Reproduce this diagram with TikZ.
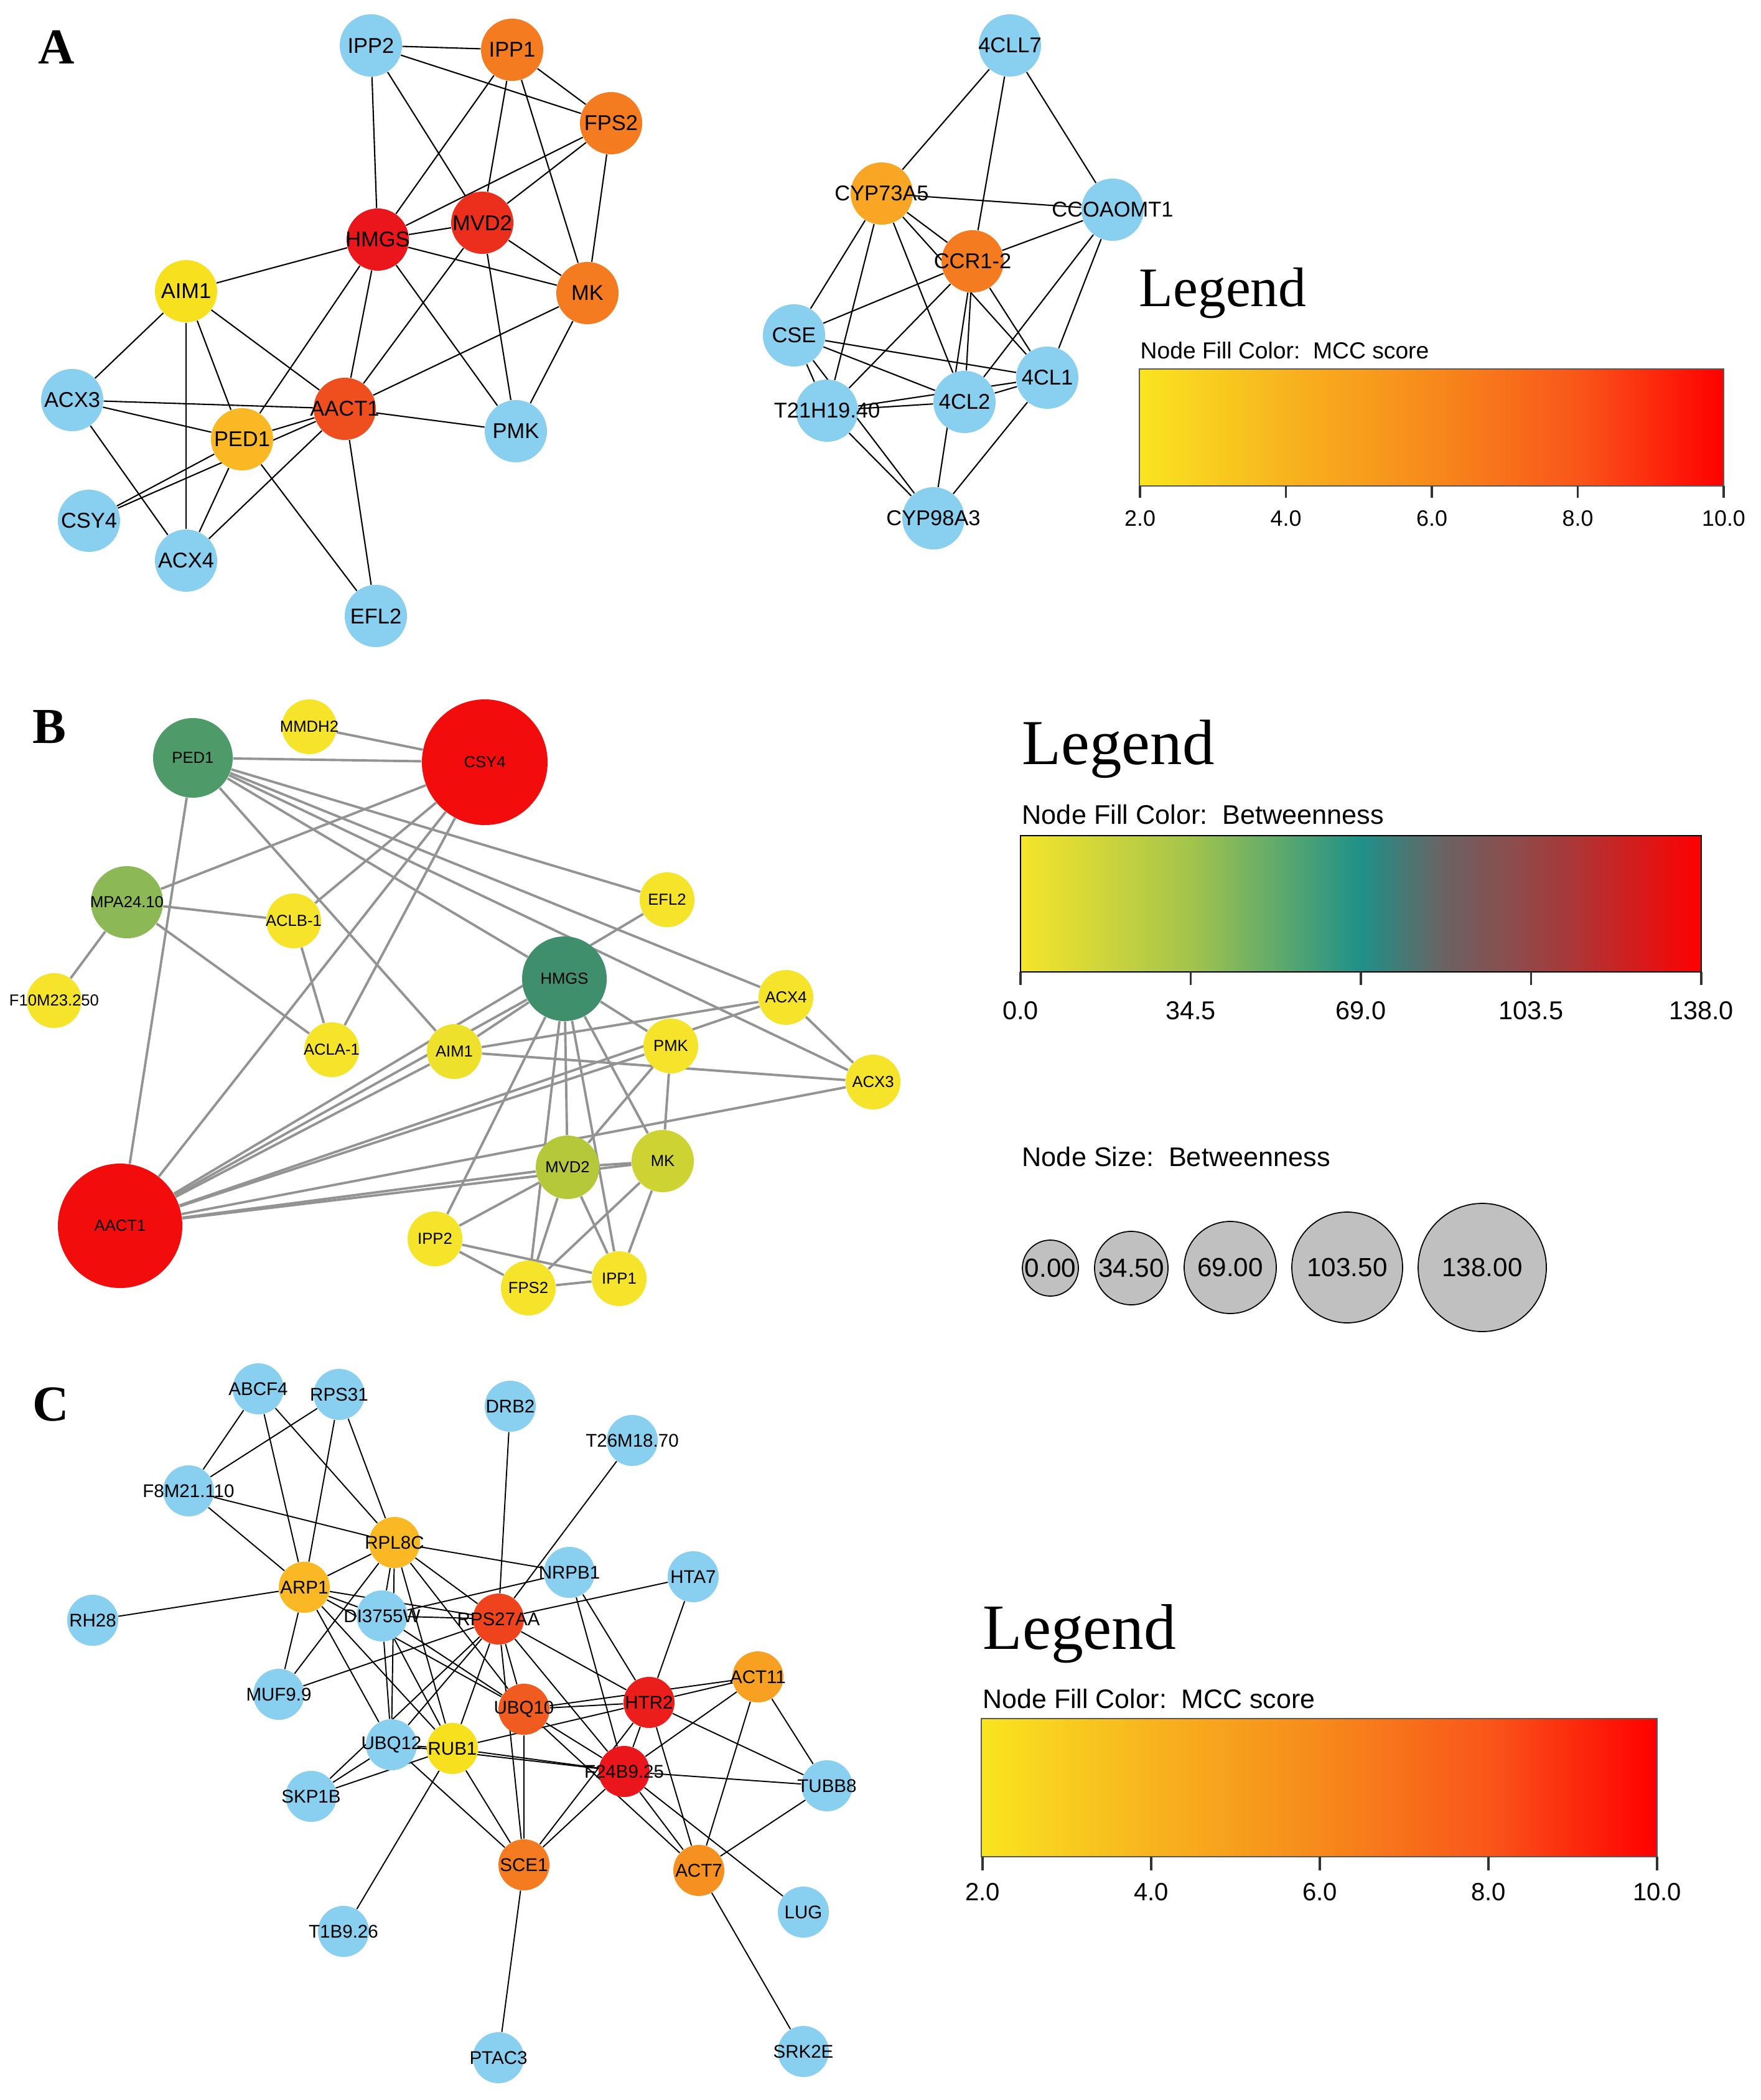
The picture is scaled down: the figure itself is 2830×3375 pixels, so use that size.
\documentclass[tikz,border=0pt]{standalone}
\usepackage{fontspec}
\setmainfont{Liberation Serif}
\setsansfont{Liberation Sans}
\usepackage{tikz}
\usetikzlibrary{backgrounds}
\definecolor{skyblue}{HTML}{89CFF0}
\definecolor{mccyellow}{HTML}{F7E01D}
\definecolor{mccgold}{HTML}{F9B824}
\definecolor{mccorange}{HTML}{F47B20}
\definecolor{mccredorange}{HTML}{EF4E1E}
\definecolor{mccred}{HTML}{EA161B}
\definecolor{btyellow}{HTML}{F5E42A}
\definecolor{btgreen}{HTML}{4F9A69}
\definecolor{btteal}{HTML}{3F8F6C}
\definecolor{btlime}{HTML}{8DB856}
\definecolor{btolive}{HTML}{B4C83A}
\definecolor{btred}{HTML}{F20C0C}
\definecolor{sizegray}{HTML}{C0C0C0}
% colour bars
\definecolor{barA}{HTML}{F9E51F}
\definecolor{barB}{HTML}{F8B41E}
\definecolor{barC}{HTML}{F78A1B}
\definecolor{barD}{HTML}{F9561A}
\definecolor{barE}{HTML}{FF0000}
\definecolor{btwA}{HTML}{F6E52A}
\definecolor{btwB}{HTML}{A3C44C}
\definecolor{btwC}{HTML}{1F9089}
\definecolor{btwD}{HTML}{6C6262}
\definecolor{btwE}{HTML}{A63A3A}
\pgfdeclarehorizontalshading{mccbar}{100bp}{color(0bp)=(barA); color(25bp)=(barA); color(37.5bp)=(barB); color(50bp)=(barC); color(62.5bp)=(barD); color(75bp)=(barE); color(100bp)=(barE)}
\pgfdeclarehorizontalshading{btwbar}{100bp}{color(0bp)=(btwA); color(25bp)=(btwA); color(37.5bp)=(btwB); color(50bp)=(btwC); color(56.25bp)=(btwD); color(65bp)=(btwE); color(75bp)=(barE); color(100bp)=(barE)}

\begin{document}
\begin{tikzpicture}[x=0.1mm, y=-0.1mm,
    gene/.style={circle, inner sep=0pt, draw=none, minimum size=#1},
    gene/.default=10mm,
    aedge/.style={black, line width=0.6pt},
    bedge/.style={gray!85, line width=1.1pt},
    cedge/.style={black, line width=0.55pt},
    panel/.style={font=\fontsize{23}{23}\selectfont\bfseries},
    legtitle/.style={anchor=base west, inner sep=0pt, font=\fontsize{#1}{#1}\selectfont},
    legtext/.style={anchor=base west, inner sep=0pt, font=\sffamily\fontsize{#1}{#1}\selectfont},
    ticklabel/.style={font=\sffamily\fontsize{#1}{#1}\selectfont},
    tickmark/.style={line width=1.1pt, black!80},
    sizedot/.style={circle, inner sep=0pt, fill=sizegray, draw=black, line width=0.5pt, minimum size=#1}]

\useasboundingbox (0,0) rectangle (2830,3375);
\begin{scope}[on background layer]
  \fill[white] (0,0) rectangle (2830,3375);
\end{scope}

% panel letters
\node[panel] (labA) at (91,76) {A};
\node[panel] (labB) at (79,1168) {B};
\node[panel] (labC) at (82,2257) {C};

%%%% A: MCC networks
\begin{scope}[every label/.style={font=\sffamily\fontsize{9.8}{10}\selectfont}]
  % mevalonate cluster
  \node[gene, fill=skyblue, label={center:IPP2}] (aIPP2) at (596,73) {};
  \node[gene, fill=mccorange, label={center:IPP1}] (aIPP1) at (823,80) {};
  \node[gene, fill=mccorange, label={center:FPS2}] (aFPS2) at (982,198) {};
  \node[gene, fill=mccred, label={center:HMGS}] (aHMGS) at (607,385) {};
  \node[gene, fill=mccred!75!mccorange, label={center:MVD2}] (aMVD2) at (775,358) {};
  \node[gene, fill=mccorange, label={center:MK}] (aMK) at (944,471) {};
  \node[gene, fill=mccyellow, label={center:AIM1}] (aAIM1) at (299,468) {};
  \node[gene, fill=mccredorange, label={center:AACT1}] (aAACT1) at (554,657) {};
  \node[gene, fill=skyblue, label={center:PMK}] (aPMK) at (829,693) {};
  \node[gene, fill=skyblue, label={center:ACX3}] (aACX3) at (116,643) {};
  \node[gene, fill=mccgold, label={center:PED1}] (aPED1) at (389,706) {};
  \node[gene, fill=skyblue, label={center:CSY4}] (aCSY4) at (143,837) {};
  \node[gene, fill=skyblue, label={center:ACX4}] (aACX4) at (299,901) {};
  \node[gene, fill=skyblue, label={center:EFL2}] (aEFL2) at (604,990) {};
  % phenylpropanoid cluster
  \node[gene, fill=skyblue, label={center:4CLL7}] (a4CLL7) at (1623,73) {};
  \node[gene, fill=mccgold!70!mccorange, label={center:CYP73A5}] (aCYP73) at (1417,311) {};
  \node[gene, fill=skyblue, label={center:CCOAOMT1}] (aCCOA) at (1788,337) {};
  \node[gene, fill=mccorange, label={center:CCR1-2}] (aCCR) at (1563,420) {};
  \node[gene, fill=skyblue, label={center:CSE}] (aCSE) at (1276,539) {};
  \node[gene, fill=skyblue, label={center:4CL1}] (a4CL1) at (1683,607) {};
  \node[gene, fill=skyblue, label={center:4CL2}] (a4CL2) at (1550,646) {};
  \node[gene, fill=skyblue, label={center:T21H19.40}] (aT21) at (1329,660) {};
  \node[gene, fill=skyblue, label={center:CYP98A3}] (aCYP98) at (1500,833) {};
\end{scope}

\begin{scope}[on background layer]
  \foreach \u/\v in {aIPP2/aIPP1, aIPP2/aFPS2, aIPP2/aHMGS, aIPP2/aMVD2,
      aIPP1/aFPS2, aIPP1/aHMGS, aIPP1/aMVD2, aIPP1/aMK,
      aFPS2/aHMGS, aFPS2/aMVD2, aFPS2/aMK,
      aHMGS/aMVD2, aHMGS/aMK, aHMGS/aAIM1, aHMGS/aAACT1, aHMGS/aPED1, aHMGS/aPMK,
      aMVD2/aMK, aMVD2/aAACT1, aMVD2/aPMK, aMK/aAACT1, aMK/aPMK,
      aAIM1/aACX3, aAIM1/aACX4, aAIM1/aPED1, aAIM1/aAACT1,
      aACX3/aAACT1, aACX3/aPED1, aACX3/aACX4,
      aAACT1/aPED1, aAACT1/aPMK, aAACT1/aEFL2, aAACT1/aACX4,
      aPED1/aACX4, aPED1/aEFL2, aPED1/aCSY4, aCSY4/aAACT1,
      a4CLL7/aCYP73, a4CLL7/aCCR, a4CLL7/aCCOA,
      aCYP73/aCCOA, aCYP73/aCCR, aCYP73/a4CL1, aCYP73/aCSE, aCYP73/aT21, aCYP73/a4CL2,
      aCCOA/aCCR, aCCOA/a4CL2, aCCOA/a4CL1,
      aCCR/aCSE, aCCR/aT21, aCCR/a4CL2, aCCR/aCYP98, aCCR/a4CL1,
      aCSE/aT21, aCSE/a4CL1, aCSE/a4CL2, aCSE/aCYP98,
      aT21/a4CL2, aT21/a4CL1, aT21/aCYP98, a4CL2/a4CL1, a4CL1/aCYP98}
    \draw[aedge] (\u) -- (\v);
\end{scope}

% legend A
\node[legtitle=25.5] (legA) at (1830,493) {Legend};
\node[legtext=10.6] (fillA) at (1832,577) {Node Fill Color:\ \ MCC score};
\draw[shading=mccbar, draw=gray!70!black, line width=0.6pt] (1831,593) rectangle (2770,781);
\foreach \k/\lab in {0/2.0, 1/4.0, 2/6.0, 3/8.0, 4/10.0} {
  \draw[tickmark] ({1832+234.5*\k},781) -- ++(0,19);
  \node[ticklabel=10.2] (tickA\k) at ({1832+234.5*\k},833) {\lab};
}

%%%% B: betweenness network
\begin{scope}[every label/.style={font=\sffamily\fontsize{7.3}{8}\selectfont}]
  \node[gene=8.8mm, fill=btyellow, label={center:MMDH2}] (bMMDH2) at (497,1168) {};
  \node[gene=12.8mm, fill=btgreen, label={center:PED1}] (bPED1) at (310,1218) {};
  \node[gene=20.2mm, fill=btred, label={center:CSY4}] (bCSY4) at (779,1225) {};
  \node[gene=11.6mm, fill=btlime, label={center:MPA24.10}] (bMPA) at (204,1450) {};
  \node[gene=8.8mm, fill=btyellow, label={center:ACLB-1}] (bACLB) at (472,1480) {};
  \node[gene=8.8mm, fill=btyellow, label={center:EFL2}] (bEFL2) at (1072,1446) {};
  \node[gene=8.8mm, fill=btyellow, label={center:F10M23.250}] (bF10M) at (87,1608) {};
  \node[gene=13.6mm, fill=btteal, label={center:HMGS}] (bHMGS) at (907,1573) {};
  \node[gene=8.8mm, fill=btyellow, label={center:ACX4}] (bACX4) at (1263,1603) {};
  \node[gene=8.8mm, fill=btyellow, label={center:ACLA-1}] (bACLA) at (533,1687) {};
  \node[gene=8.8mm, fill=btyellow!90!btolive, label={center:AIM1}] (bAIM1) at (730,1690) {};
  \node[gene=8.8mm, fill=btyellow, label={center:PMK}] (bPMK) at (1078,1681) {};
  \node[gene=8.8mm, fill=btyellow, label={center:ACX3}] (bACX3) at (1403,1739) {};
  \node[gene=10.2mm, fill=btolive, label={center:MVD2}] (bMVD2) at (912,1876) {};
  \node[gene=10mm, fill=btolive!60!btyellow, label={center:MK}] (bMK) at (1065,1866) {};
  \node[gene=20mm, fill=btred, label={center:AACT1}] (bAACT1) at (193,1970) {};
  \node[gene=8.8mm, fill=btyellow, label={center:IPP2}] (bIPP2) at (699,1991) {};
  \node[gene=8.8mm, fill=btyellow, label={center:FPS2}] (bFPS2) at (849,2070) {};
  \node[gene=8.8mm, fill=btyellow, label={center:IPP1}] (bIPP1) at (995,2055) {};
\end{scope}

\begin{scope}[on background layer]
  \foreach \u/\v in {bIPP2/bIPP1, bIPP2/bFPS2, bIPP2/bHMGS, bIPP2/bMVD2,
      bIPP1/bFPS2, bIPP1/bHMGS, bIPP1/bMVD2, bIPP1/bMK,
      bFPS2/bHMGS, bFPS2/bMVD2, bFPS2/bMK,
      bHMGS/bMVD2, bHMGS/bMK, bHMGS/bAIM1, bHMGS/bAACT1, bHMGS/bPED1, bHMGS/bPMK,
      bMVD2/bMK, bMVD2/bAACT1, bMVD2/bPMK, bMK/bAACT1, bMK/bPMK,
      bAIM1/bACX3, bAIM1/bACX4, bAIM1/bPED1, bAIM1/bAACT1,
      bACX3/bAACT1, bACX3/bPED1, bACX3/bACX4,
      bAACT1/bPED1, bAACT1/bPMK, bAACT1/bEFL2, bAACT1/bACX4,
      bPED1/bACX4, bPED1/bEFL2, bPED1/bCSY4, bCSY4/bAACT1,
      bMMDH2/bCSY4, bCSY4/bMPA, bCSY4/bACLB, bCSY4/bACLA,
      bMPA/bACLB, bMPA/bACLA, bMPA/bF10M, bACLB/bACLA}
    \draw[bedge] (\u) -- (\v);
\end{scope}

% legend B
\node[legtitle=29.3] (legB) at (1642,1228) {Legend};
\node[legtext=12.3] (fillB) at (1642,1324) {Node Fill Color:\ \ Betweenness};
\draw[shading=btwbar, draw=black, line width=0.6pt] (1640,1343) rectangle (2734,1562);
\foreach \k/\lab in {0/0.0, 1/34.5, 2/69.0, 3/103.5, 4/138.0} {
  \draw[tickmark] ({1640+273.5*\k},1562) -- ++(0,21);
  \node[ticklabel=11.8] (tickB\k) at ({1640+273.5*\k},1624) {\lab};
}
\node[legtext=12.3] (sizeB) at (1642,1874) {Node Size:\ \ Betweenness};
\begin{scope}[every label/.style={font=\sffamily\fontsize{12}{12}\selectfont}]
  \node[sizedot=9mm, label={center:0.00}] (size0) at (1688,2038) {};
  \node[sizedot=11.8mm, label={center:34.50}] (size1) at (1818,2038) {};
  \node[sizedot=14.8mm, label={center:69.00}] (size2) at (1977,2037) {};
  \node[sizedot=17.8mm, label={center:103.50}] (size3) at (2165,2037) {};
  \node[sizedot=20.6mm, label={center:138.00}] (size4) at (2382,2037) {};
\end{scope}

%%%% C: MCC network
\begin{scope}[every label/.style={font=\sffamily\fontsize{8.4}{9}\selectfont}]
  \node[gene=8.2mm, fill=skyblue, label={center:ABCF4}] (cABCF4) at (415,2232) {};
  \node[gene=8.2mm, fill=skyblue, label={center:RPS31}] (cRPS31) at (545,2241) {};
  \node[gene=8.2mm, fill=skyblue, label={center:DRB2}] (cDRB2) at (820,2260) {};
  \node[gene=8.2mm, fill=skyblue, label={center:T26M18.70}] (cT26M) at (1016,2315) {};
  \node[gene=8.2mm, fill=skyblue, label={center:F8M21.110}] (cF8M) at (303,2396) {};
  \node[gene=8.2mm, fill=mccgold, label={center:RPL8C}] (cRPL8C) at (634,2479) {};
  \node[gene=8.2mm, fill=skyblue, label={center:NRPB1}] (cNRPB1) at (915,2527) {};
  \node[gene=8.2mm, fill=skyblue, label={center:HTA7}] (cHTA7) at (1114,2534) {};
  \node[gene=8.2mm, fill=mccgold, label={center:ARP1}] (cARP1) at (489,2551) {};
  \node[gene=8.2mm, fill=skyblue, label={center:RH28}] (cRH28) at (149,2604) {};
  \node[gene=8.2mm, fill=skyblue, label={center:DI3755W}] (cDI37) at (614,2597) {};
  \node[gene=8.2mm, fill=mccredorange!80!mccred, label={center:RPS27AA}] (cRPS27) at (801,2602) {};
  \node[gene=8.2mm, fill=mccgold!60!mccorange, label={center:ACT11}] (cACT11) at (1218,2695) {};
  \node[gene=8.2mm, fill=skyblue, label={center:MUF9.9}] (cMUF) at (448,2723) {};
  \node[gene=8.2mm, fill=mccredorange!70!mccorange, label={center:UBQ10}] (cUBQ10) at (842,2747) {};
  \node[gene=8.2mm, fill=mccred!85!mccredorange, label={center:HTR2}] (cHTR2) at (1043,2736) {};
  \node[gene=8.2mm, fill=skyblue, label={center:UBQ12}] (cUBQ12) at (629,2804) {};
  \node[gene=8.2mm, fill=mccyellow, label={center:RUB1}] (cRUB1) at (727,2810) {};
  \node[gene=8.2mm, fill=mccred, label={center:F24B9.25}] (cF24B) at (1003,2847) {};
  \node[gene=8.2mm, fill=skyblue, label={center:TUBB8}] (cTUBB8) at (1329,2870) {};
  \node[gene=8.2mm, fill=skyblue, label={center:SKP1B}] (cSKP1B) at (500,2887) {};
  \node[gene=8.2mm, fill=mccorange, label={center:SCE1}] (cSCE1) at (842,2997) {};
  \node[gene=8.2mm, fill=mccgold!35!mccorange, label={center:ACT7}] (cACT7) at (1123,3006) {};
  \node[gene=8.2mm, fill=skyblue, label={center:LUG}] (cLUG) at (1291,3073) {};
  \node[gene=8.2mm, fill=skyblue, label={center:T1B9.26}] (cT1B9) at (552,3104) {};
  \node[gene=8.2mm, fill=skyblue, label={center:PTAC3}] (cPTAC3) at (801,3307) {};
  \node[gene=8.2mm, fill=skyblue, label={center:SRK2E}] (cSRK2E) at (1291,3297) {};
\end{scope}

\begin{scope}[on background layer]
  \foreach \u/\v in {cABCF4/cF8M, cABCF4/cARP1, cABCF4/cRPL8C,
      cRPS31/cF8M, cRPS31/cARP1, cRPS31/cRPL8C, cF8M/cRPL8C, cF8M/cARP1,
      cRPL8C/cARP1, cRPL8C/cNRPB1, cRPL8C/cMUF, cRPL8C/cDI37, cRPL8C/cUBQ12,
      cRPL8C/cRUB1, cRPL8C/cUBQ10, cRPL8C/cRPS27,
      cARP1/cRH28, cARP1/cMUF, cARP1/cDI37, cARP1/cRPS27, cARP1/cUBQ10, cARP1/cRUB1, cARP1/cUBQ12,
      cDI37/cNRPB1, cDI37/cRPS27, cDI37/cUBQ12, cDI37/cRUB1, cDI37/cUBQ10,
      cDRB2/cRPS27, cT26M/cRPS27, cHTA7/cRPS27, cMUF/cRPS27,
      cRPS27/cUBQ12, cRPS27/cRUB1, cRPS27/cUBQ10, cRPS27/cSCE1, cRPS27/cF24B, cRPS27/cHTR2,
      cSKP1B/cRPS27, cSKP1B/cUBQ12, cSKP1B/cRUB1,
      cNRPB1/cF24B, cNRPB1/cHTR2, cHTA7/cHTR2,
      cUBQ10/cHTR2, cUBQ10/cACT11, cUBQ10/cF24B, cUBQ10/cACT7, cUBQ10/cSCE1,
      cRUB1/cHTR2, cRUB1/cUBQ12, cRUB1/cF24B, cUBQ12/cF24B, cRUB1/cSCE1, cRUB1/cT1B9,
      cUBQ12/cSCE1,
      cHTR2/cACT11, cHTR2/cF24B, cHTR2/cACT7, cHTR2/cTUBB8, cHTR2/cSCE1,
      cACT11/cF24B, cACT11/cACT7, cACT11/cTUBB8,
      cF24B/cTUBB8, cF24B/cSCE1, cF24B/cACT7, cF24B/cLUG,
      cTUBB8/cACT7, cSCE1/cPTAC3, cACT7/cSRK2E}
    \draw[cedge] (\u) -- (\v);
\end{scope}

% legend C
\node[legtitle=29.5] (legC) at (1579,2650) {Legend};
\node[legtext=12.2] (fillC) at (1579,2745) {Node Fill Color:\ \ MCC score};
\draw[shading=mccbar, draw=gray!70!black, line width=0.6pt] (1577,2762) rectangle (2663,2984);
\foreach \k/\lab in {0/2.0, 1/4.0, 2/6.0, 3/8.0, 4/10.0} {
  \draw[tickmark] ({1579+271*\k},2984) -- ++(0,22);
  \node[ticklabel=11.4] (tickC\k) at ({1579+271*\k},3041) {\lab};
}

\end{tikzpicture}
\end{document}
